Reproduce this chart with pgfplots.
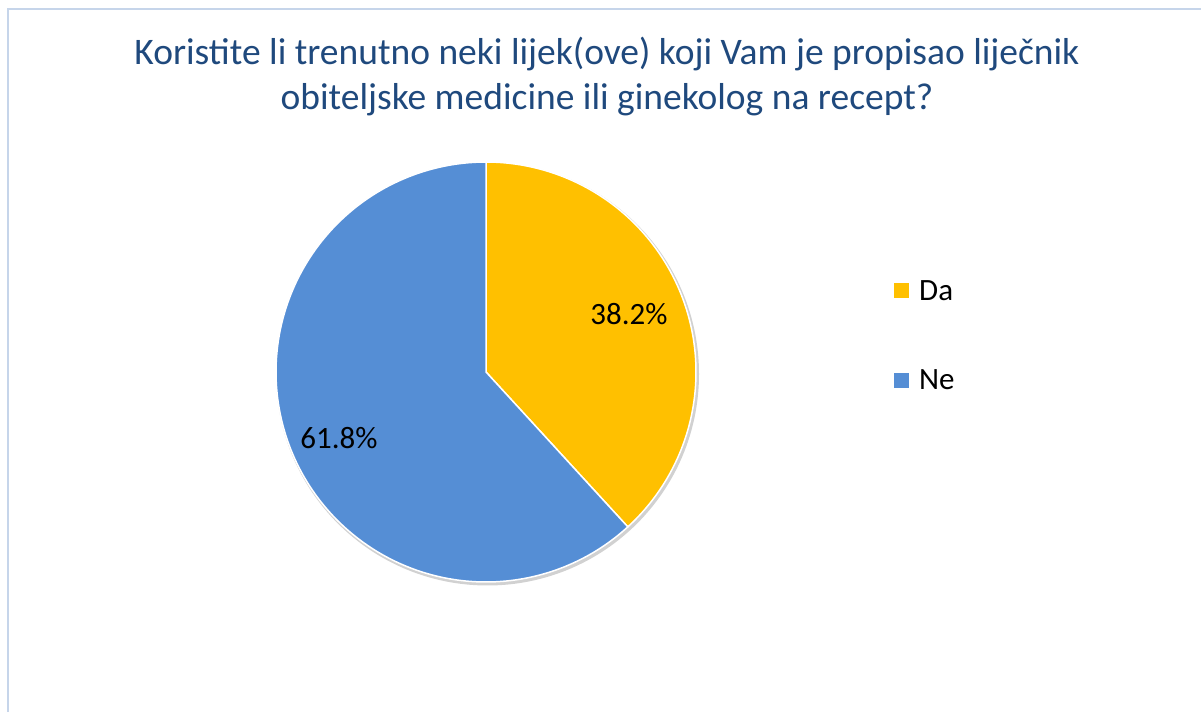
\documentclass[border=0pt]{standalone}
\usepackage{pgfplots}
\pgfplotsset{compat=1.18}
\usepackage{fontspec}
\setmainfont{Carlito}
\definecolor{titleblue}{HTML}{1F497D}
\definecolor{pieyellow}{HTML}{FFC000}
\definecolor{pieblue}{HTML}{558ED5}
\definecolor{framec}{HTML}{C6D5EA}
\begin{document}
\begin{tikzpicture}
\pgfmathsetmacro{\da}{38.2}
\pgfmathsetmacro{\ne}{61.8}
\pgfmathsetmacro{\split}{90-3.6*\da}
\pgfmathsetmacro{\splitb}{\split+360}
\begin{axis}[name=ax, width=1201pt,height=712pt,scale only axis,
  xmin=0,xmax=1201,ymin=0,ymax=712,hide axis,clip=false,
  legend style={draw=none, fill=none, inner sep=0pt, at={(axis cs:894,432)}, anchor=north west,
    font=\fontsize{31}{37}\selectfont, row sep=68pt, nodes={inner sep=0pt},
    /tikz/every odd column/.style={column sep=10pt}},
  legend cell align=left,
  legend image code/.code={\fill[#1, draw=none] (0pt,-7.5pt) rectangle (15pt,7.5pt);}]
% frame
\draw[framec, line width=1.5pt] (axis cs:8,0) -- (axis cs:8,703) -- (axis cs:1201,703);
% shadow
\fill[black!30, opacity=0.6] (axis cs:487.5,338) circle[radius=211.5pt];
% pie
\addplot[fill=pieyellow, draw=white, line width=1.5pt, domain=\split:90, samples=150, variable=\t, forget plot]
  ({486+210*cos(\t)},{340+210*sin(\t)}) -- (axis cs:486,340) -- cycle;
\addplot[fill=pieblue, draw=white, line width=1.5pt, domain=90:\splitb, samples=200, variable=\t, forget plot]
  ({486+210*cos(\t)},{340+210*sin(\t)}) -- (axis cs:486,340) -- cycle;
\addlegendimage{fill=pieyellow, draw=none}
\addlegendentry{Da}
\addlegendimage{fill=pieblue, draw=none}
\addlegendentry{Ne}
% labels
\node[font=\fontsize{31}{37}\selectfont] at (axis cs:629,398) {38.2\%};
\node[font=\fontsize{31}{37}\selectfont] at (axis cs:339,274) {61.8\%};
% title
\node[anchor=base, font=\fontsize{37.5}{45}\selectfont, text=titleblue] at (axis cs:607,647) {Koristite li trenutno neki lijek(ove) koji Vam je propisao liječnik};
\node[anchor=base, font=\fontsize{37.5}{45}\selectfont, text=titleblue] at (axis cs:607,602) {obiteljske medicine ili ginekolog na recept?};
\end{axis}
\pgfresetboundingbox
\useasboundingbox (ax.south west) rectangle (ax.north east);
\end{tikzpicture}
\end{document}
